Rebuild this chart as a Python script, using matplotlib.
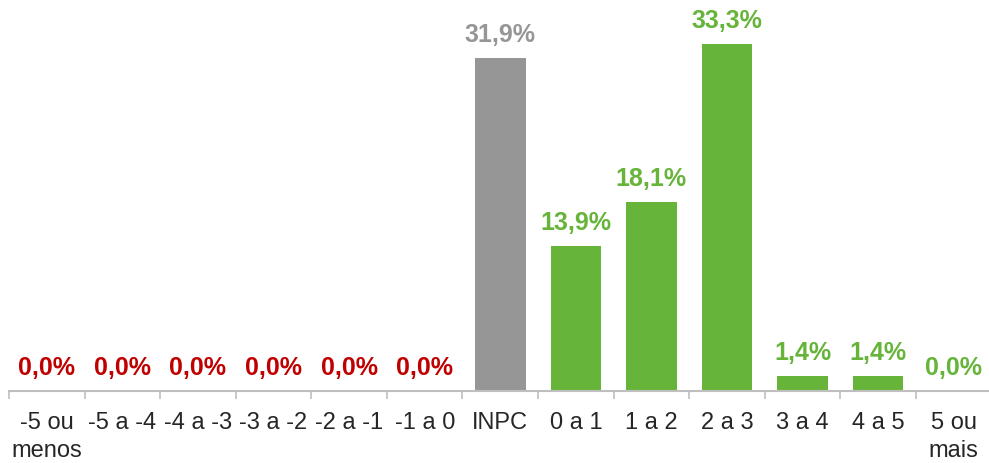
import numpy as np
import matplotlib.pyplot as plt

plt.rcParams['font.family'] = ['Liberation Sans', 'DejaVu Sans']

categories = ['-5 ou\nmenos', '-5 a -4', '-4 a -3', '-3 a -2', '-2 a -1', '-1 a 0', 'INPC',
              '0 a 1', '1 a 2', '2 a 3', '3 a 4', '4 a 5', '5 ou\nmais']
values = [0.0, 0.0, 0.0, 0.0, 0.0, 0.0, 31.9, 13.9, 18.1, 33.3, 1.4, 1.4, 0.0]
groups = ['neg'] * 6 + ['inpc'] + ['pos'] * 6

RED = '#C00000'
GREEN = '#66B43A'
GRAY = '#969696'
bar_col = {'neg': RED, 'inpc': GRAY, 'pos': GREEN}

W, H = 989, 463
fig = plt.figure(figsize=(W / 100, H / 100), dpi=100)
ax_left = 9 / W
ax_bottom = (H - 391) / H
ax = fig.add_axes([ax_left, ax_bottom, 75.58 * 13 / W, 391 / H])

x = np.arange(len(categories))
ax.bar(x, values, width=0.67, color=[bar_col[g] for g in groups], zorder=2)

for xi, v, g in zip(x, values, groups):
    ax.annotate(f'{v:.1f}%'.replace('.', ','), (xi, v), xytext=(0, 8),
                textcoords='offset points', ha='center', va='bottom',
                fontsize=18, fontweight='bold', color=bar_col[g])

ax.set_xlim(-0.5, len(categories) - 0.5)
ax.set_ylim(0, 37.5)
ax.set_yticks([])
for s in ['top', 'right', 'left']:
    ax.spines[s].set_visible(False)
ax.spines['bottom'].set_color('#BFBFBF')
ax.spines['bottom'].set_linewidth(1.5)

ax.set_xticks(x)
ax.set_xticklabels(categories, fontsize=17, color='#262626', linespacing=1.35)
ax.tick_params(axis='x', length=0, pad=15)
ax.set_xticks(np.arange(len(categories)) - 0.5, minor=True)
ax.tick_params(axis='x', which='minor', length=6, width=1.2, color='#BFBFBF', direction='out')

fig.savefig('out.png', dpi=100)
